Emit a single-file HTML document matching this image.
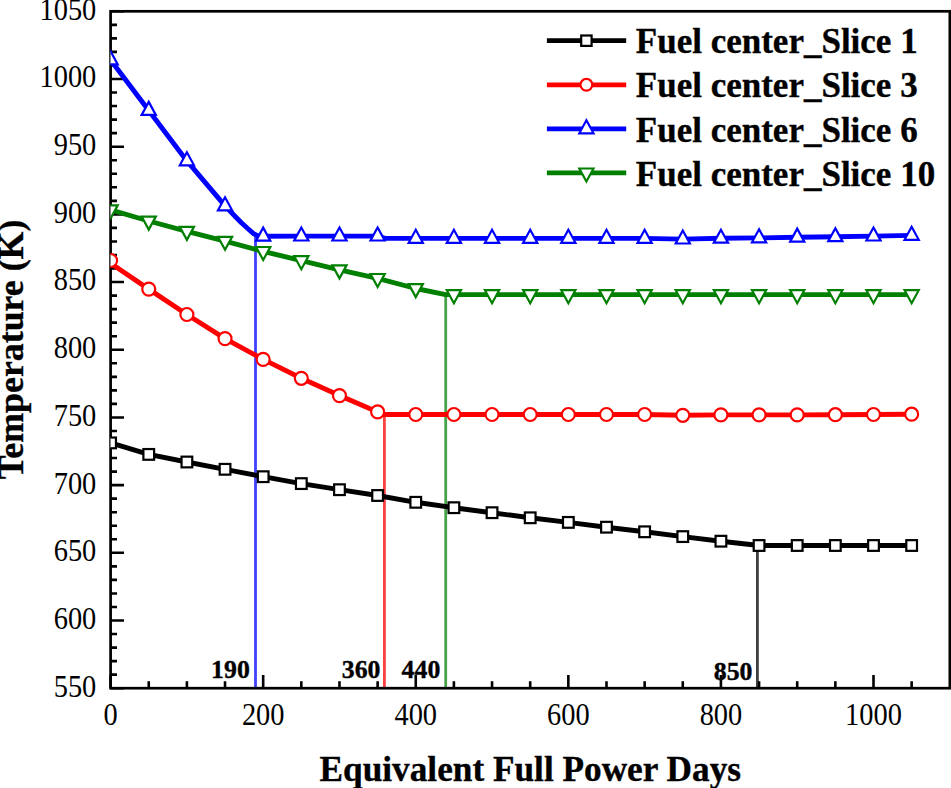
<!DOCTYPE html>
<html lang="en"><head><meta charset="utf-8"><title>Fuel center temperature vs Equivalent Full Power Days</title>
<style>html,body{margin:0;padding:0;background:#fff;}body{width:951px;height:788px;overflow:hidden;}svg{display:block;}text{font-family:"Liberation Serif","Times New Roman",serif;fill:#000;}.tick{font-size:28.4px;}.b{font-weight:bold;}.big{font-size:35.0px;font-weight:bold;stroke:#000;stroke-width:0.35px;}.ann{font-size:25.8px;font-weight:bold;stroke:#000;stroke-width:0.35px;}</style></head><body>
<svg width="951" height="788" viewBox="0 0 951 788">
<rect width="951" height="788" fill="#fff"/>
<defs><clipPath id="plot"><rect x="110.5" y="11.3" width="839.25" height="676.9"/></clipPath></defs>
<path d="M757.4 545.5V688.2" stroke="#404040" stroke-width="2.8"/>
<path d="M255.5 236.2V688.2" stroke="#4040ff" stroke-width="2.8"/>
<path d="M384.4 414.5V688.2" stroke="#ff4040" stroke-width="2.8"/>
<path d="M445.7 294.6V688.2" stroke="#48a348" stroke-width="2.8"/>
<rect x="110.6" y="11.3" width="839.25" height="676.9" fill="none" stroke="#000" stroke-width="2.7"/>
<path d="M110.6 688.2H124M110.6 674.66H117M110.6 661.12H117M110.6 647.59H117M110.6 634.05H117M110.6 620.51H124M110.6 606.97H117M110.6 593.43H117M110.6 579.9H117M110.6 566.36H117M110.6 552.82H124M110.6 539.28H117M110.6 525.74H117M110.6 512.21H117M110.6 498.67H117M110.6 485.13H124M110.6 471.59H117M110.6 458.05H117M110.6 444.52H117M110.6 430.98H117M110.6 417.44H124M110.6 403.9H117M110.6 390.36H117M110.6 376.83H117M110.6 363.29H117M110.6 349.75H124M110.6 336.21H117M110.6 322.67H117M110.6 309.14H117M110.6 295.6H117M110.6 282.06H124M110.6 268.52H117M110.6 254.98H117M110.6 241.45H117M110.6 227.91H117M110.6 214.37H124M110.6 200.83H117M110.6 187.29H117M110.6 173.76H117M110.6 160.22H117M110.6 146.68H124M110.6 133.14H117M110.6 119.6H117M110.6 106.07H117M110.6 92.53H117M110.6 78.99H124M110.6 65.45H117M110.6 51.91H117M110.6 38.38H117M110.6 24.84H117M110.6 11.3H124M110.6 688.2V674.9M148.75 688.2V681.2M186.89 688.2V681.2M225.03 688.2V681.2M263.18 688.2V674.9M301.32 688.2V681.2M339.47 688.2V681.2M377.62 688.2V681.2M415.76 688.2V674.9M453.9 688.2V681.2M492.05 688.2V681.2M530.2 688.2V681.2M568.34 688.2V674.9M606.49 688.2V681.2M644.63 688.2V681.2M682.78 688.2V681.2M720.92 688.2V674.9M759.07 688.2V681.2M797.21 688.2V681.2M835.36 688.2V681.2M873.5 688.2V674.9M911.65 688.2V681.2" stroke="#000" stroke-width="2.6" fill="none"/>
<g class="tick" text-anchor="end">
<text transform="translate(96.3 696.6) scale(1 1.095)">550</text>
<text transform="translate(96.3 628.91) scale(1 1.095)">600</text>
<text transform="translate(96.3 561.22) scale(1 1.095)">650</text>
<text transform="translate(96.3 493.53) scale(1 1.095)">700</text>
<text transform="translate(96.3 425.84) scale(1 1.095)">750</text>
<text transform="translate(96.3 358.15) scale(1 1.095)">800</text>
<text transform="translate(96.3 290.46) scale(1 1.095)">850</text>
<text transform="translate(96.3 222.77) scale(1 1.095)">900</text>
<text transform="translate(96.3 155.08) scale(1 1.095)">950</text>
<text transform="translate(96.3 87.39) scale(1 1.095)">1000</text>
<text transform="translate(96.3 19.7) scale(1 1.095)">1050</text>
</g>
<g class="tick" text-anchor="middle">
<text transform="translate(110.6 724.9) scale(1 1.095)">0</text>
<text transform="translate(263.18 724.9) scale(1 1.095)">200</text>
<text transform="translate(415.76 724.9) scale(1 1.095)">400</text>
<text transform="translate(568.34 724.9) scale(1 1.095)">600</text>
<text transform="translate(720.92 724.9) scale(1 1.095)">800</text>
<text transform="translate(873.5 724.9) scale(1 1.095)">1000</text>
</g>
<text class="big" style="font-size:35.25px" text-anchor="middle" x="530.3" y="780.5">Equivalent Full Power Days</text>
<text class="big" style="font-size:35.85px" text-anchor="middle" transform="translate(22.5 349.45) rotate(-90)">Temperature (K)</text>
<g clip-path="url(#plot)">
<polyline points="110.6,442.9 148.75,454.4 186.89,462 225.03,469.3 263.18,476.7 301.32,483.6 339.47,489.7 377.62,495.5 415.76,502.3 453.9,507.7 492.05,512.7 530.2,517.8 568.34,522.4 606.49,527.2 644.63,531.8 682.78,536.6 720.92,541.2 759.07,545.5 797.21,545.5 835.36,545.5 873.5,545.5 911.65,545.5" fill="none" stroke="#000" stroke-width="4.9" stroke-linejoin="round"/>
<g fill="#fff" stroke="#000" stroke-width="2.2"><rect x="105.25" y="437.55" width="10.7" height="10.7"/><rect x="143.4" y="449.05" width="10.7" height="10.7"/><rect x="181.54" y="456.65" width="10.7" height="10.7"/><rect x="219.69" y="463.95" width="10.7" height="10.7"/><rect x="257.83" y="471.35" width="10.7" height="10.7"/><rect x="295.97" y="478.25" width="10.7" height="10.7"/><rect x="334.12" y="484.35" width="10.7" height="10.7"/><rect x="372.26" y="490.15" width="10.7" height="10.7"/><rect x="410.41" y="496.95" width="10.7" height="10.7"/><rect x="448.55" y="502.35" width="10.7" height="10.7"/><rect x="486.7" y="507.35" width="10.7" height="10.7"/><rect x="524.85" y="512.45" width="10.7" height="10.7"/><rect x="562.99" y="517.05" width="10.7" height="10.7"/><rect x="601.13" y="521.85" width="10.7" height="10.7"/><rect x="639.28" y="526.45" width="10.7" height="10.7"/><rect x="677.43" y="531.25" width="10.7" height="10.7"/><rect x="715.57" y="535.85" width="10.7" height="10.7"/><rect x="753.72" y="540.15" width="10.7" height="10.7"/><rect x="791.86" y="540.15" width="10.7" height="10.7"/><rect x="830" y="540.15" width="10.7" height="10.7"/><rect x="868.15" y="540.15" width="10.7" height="10.7"/><rect x="906.3" y="540.15" width="10.7" height="10.7"/></g>
<polyline points="110.6,263.2 148.75,289.1 186.89,314.5 225.03,338.6 263.18,359.4 301.32,378.3 339.47,395.6 377.62,411.9 384.4,414.5 415.76,414.5 453.9,414.5 492.05,414.5 530.2,414.5 568.34,414.5 606.49,414.5 644.63,414.5 682.78,415.3 720.92,414.9 759.07,414.9 797.21,414.9 835.36,414.7 873.5,414.5 911.65,414.2" fill="none" stroke="#ff0000" stroke-width="4.9" stroke-linejoin="round"/>
<g fill="#fff" stroke="#ff0000" stroke-width="2.2"><circle cx="110.6" cy="260.5" r="6.5"/><circle cx="148.75" cy="289.1" r="6.5"/><circle cx="186.89" cy="314.5" r="6.5"/><circle cx="225.03" cy="338.6" r="6.5"/><circle cx="263.18" cy="359.4" r="6.5"/><circle cx="301.32" cy="378.3" r="6.5"/><circle cx="339.47" cy="395.6" r="6.5"/><circle cx="377.62" cy="411.9" r="6.5"/><circle cx="415.76" cy="414.5" r="6.5"/><circle cx="453.9" cy="414.5" r="6.5"/><circle cx="492.05" cy="414.5" r="6.5"/><circle cx="530.2" cy="414.5" r="6.5"/><circle cx="568.34" cy="414.5" r="6.5"/><circle cx="606.49" cy="414.5" r="6.5"/><circle cx="644.63" cy="414.5" r="6.5"/><circle cx="682.78" cy="415.3" r="6.5"/><circle cx="720.92" cy="414.9" r="6.5"/><circle cx="759.07" cy="414.9" r="6.5"/><circle cx="797.21" cy="414.9" r="6.5"/><circle cx="835.36" cy="414.7" r="6.5"/><circle cx="873.5" cy="414.5" r="6.5"/><circle cx="911.65" cy="414.2" r="6.5"/></g>
<polyline points="110.6,60 148.75,110.5 186.89,160.9 225.03,205.9 235,216.2 241.4,222.7 247.7,228.5 253.5,233.6 258.5,236.2 263.18,236.2 301.32,236.1 339.47,236.1 377.62,236.1 385.2,238.4 415.76,238.4 453.9,238.4 492.05,238.4 530.2,238.4 568.34,238.4 606.49,238.4 644.63,238.4 682.78,239.1 720.92,238.3 759.07,237.9 797.21,237.2 835.36,236.8 873.5,236.1 911.65,235.4" fill="none" stroke="#0000ff" stroke-width="4.9" stroke-linejoin="round"/>
<g fill="#fff" stroke="#0000ff" stroke-width="2.2"><polygon points="110.6,51.4 117.7,64.4 103.5,64.4"/><polygon points="148.75,101.9 155.84,114.9 141.65,114.9"/><polygon points="186.89,152.3 193.99,165.3 179.79,165.3"/><polygon points="225.03,197.3 232.13,210.3 217.94,210.3"/><polygon points="263.18,227.6 270.28,240.6 256.08,240.6"/><polygon points="301.32,227.5 308.43,240.5 294.22,240.5"/><polygon points="339.47,227.5 346.57,240.5 332.37,240.5"/><polygon points="377.62,227.5 384.72,240.5 370.51,240.5"/><polygon points="415.76,229.8 422.86,242.8 408.66,242.8"/><polygon points="453.9,229.8 461,242.8 446.8,242.8"/><polygon points="492.05,229.8 499.15,242.8 484.95,242.8"/><polygon points="530.2,229.8 537.3,242.8 523.1,242.8"/><polygon points="568.34,229.8 575.44,242.8 561.24,242.8"/><polygon points="606.49,229.8 613.59,242.8 599.38,242.8"/><polygon points="644.63,229.8 651.73,242.8 637.53,242.8"/><polygon points="682.78,230.5 689.88,243.5 675.68,243.5"/><polygon points="720.92,229.7 728.02,242.7 713.82,242.7"/><polygon points="759.07,229.3 766.17,242.3 751.97,242.3"/><polygon points="797.21,228.6 804.31,241.6 790.11,241.6"/><polygon points="835.36,228.2 842.46,241.2 828.25,241.2"/><polygon points="873.5,227.5 880.6,240.5 866.4,240.5"/><polygon points="911.65,226.8 918.75,239.8 904.55,239.8"/></g>
<polyline points="110.6,209.8 148.75,221 186.89,231.3 225.03,241.2 263.18,251.4 301.32,260.6 339.47,269.8 377.62,278.4 415.76,288.5 445.7,294.6 453.9,294.6 492.05,294.6 530.2,294.6 568.34,294.6 606.49,294.6 644.63,294.6 682.78,294.6 720.92,294.6 759.07,294.6 797.21,294.6 835.36,294.6 873.5,294.6 911.65,294.6" fill="none" stroke="#007f00" stroke-width="4.9" stroke-linejoin="round"/>
<g fill="#fff" stroke="#007f00" stroke-width="2.2"><polygon points="110.6,218.4 117.7,205.4 103.5,205.4"/><polygon points="148.75,229.6 155.84,216.6 141.65,216.6"/><polygon points="186.89,239.9 193.99,226.9 179.79,226.9"/><polygon points="225.03,249.8 232.13,236.8 217.94,236.8"/><polygon points="263.18,260 270.28,247 256.08,247"/><polygon points="301.32,269.2 308.43,256.2 294.22,256.2"/><polygon points="339.47,278.4 346.57,265.4 332.37,265.4"/><polygon points="377.62,287 384.72,274 370.51,274"/><polygon points="415.76,297.1 422.86,284.1 408.66,284.1"/><polygon points="453.9,303.2 461,290.2 446.8,290.2"/><polygon points="492.05,303.2 499.15,290.2 484.95,290.2"/><polygon points="530.2,303.2 537.3,290.2 523.1,290.2"/><polygon points="568.34,303.2 575.44,290.2 561.24,290.2"/><polygon points="606.49,303.2 613.59,290.2 599.38,290.2"/><polygon points="644.63,303.2 651.73,290.2 637.53,290.2"/><polygon points="682.78,303.2 689.88,290.2 675.68,290.2"/><polygon points="720.92,303.2 728.02,290.2 713.82,290.2"/><polygon points="759.07,303.2 766.17,290.2 751.97,290.2"/><polygon points="797.21,303.2 804.31,290.2 790.11,290.2"/><polygon points="835.36,303.2 842.46,290.2 828.25,290.2"/><polygon points="873.5,303.2 880.6,290.2 866.4,290.2"/><polygon points="911.65,303.2 918.75,290.2 904.55,290.2"/></g>
</g>
<g class="ann">
<text x="211.1" y="677.7">190</text>
<text x="341.8" y="677.7">360</text>
<text x="401.6" y="677.7">440</text>
<text x="713.8" y="680.1">850</text>
</g>
<path d="M546.9 40.7H626.2" stroke="#000" stroke-width="4.8"/>
<g fill="#fff" stroke="#000" stroke-width="2.2"><rect x="581.2" y="35.5" width="10.4" height="10.4"/></g>
<text class="big" x="635.8" y="53.3">Fuel center_Slice 1</text>
<path d="M546.9 84.8H626.2" stroke="#ff0000" stroke-width="4.8"/>
<g fill="#fff" stroke="#ff0000" stroke-width="2.2"><circle cx="586.4" cy="84.8" r="5.9"/></g>
<text class="big" x="635.8" y="97.4">Fuel center_Slice 3</text>
<path d="M546.9 128.9H626.2" stroke="#0000ff" stroke-width="4.8"/>
<g fill="#fff" stroke="#0000ff" stroke-width="2.2"><polygon points="586.4,120.3 593.5,133.3 579.3,133.3"/></g>
<text class="big" x="635.8" y="141.5">Fuel center_Slice 6</text>
<path d="M546.9 172.9H626.2" stroke="#007f00" stroke-width="4.8"/>
<g fill="#fff" stroke="#007f00" stroke-width="2.2"><polygon points="586.4,181.5 593.5,168.5 579.3,168.5"/></g>
<text class="big" x="635.8" y="185.5">Fuel center_Slice 10</text>
</svg></body></html>
